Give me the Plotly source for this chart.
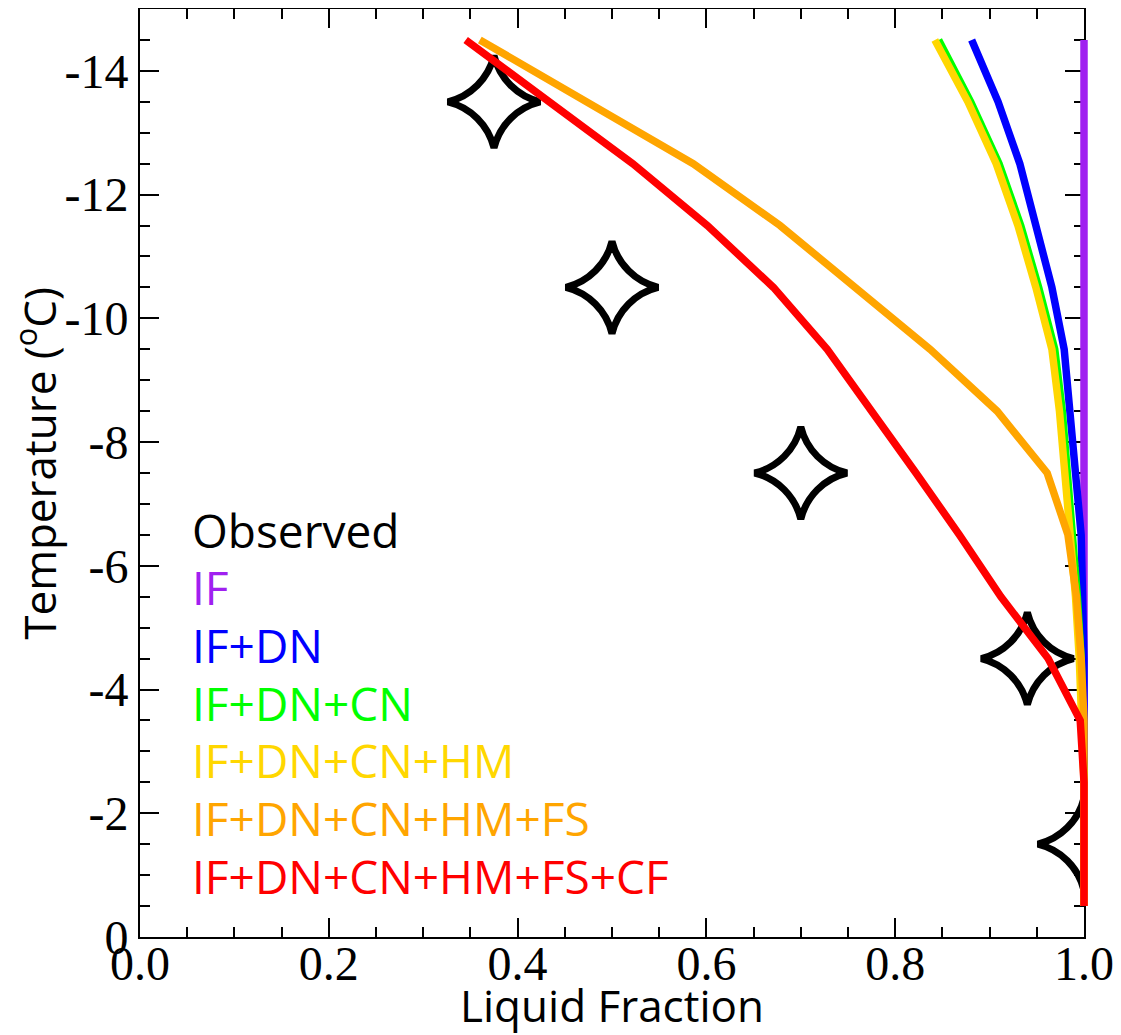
import plotly.graph_objects as go

# ---- data ----
temperature = [-14.5, -13.5, -12.5, -11.5, -10.5, -9.5, -8.5, -7.5,
               -6.5, -5.5, -4.5, -3.5, -2.5, -1.5, -0.5]

obs_fraction = [0.375, 0.50, 0.70, 0.94, 1.0]
obs_temperature = [-13.5, -10.5, -7.5, -4.5, -1.5]

lf_if = [1.0] * 15
lf_if_dn = [0.881, 0.909, 0.932, 0.950, 0.966, 0.979, 0.984, 0.991,
            0.997, 0.999, 1.0, 1.0, 1.0, 1.0, 1.0]
lf_if_dn_cn = [0.846, 0.880, 0.910, 0.933, 0.952, 0.969, 0.977, 0.983,
               0.988, 0.993, 0.997, 0.999, 1.0, 1.0, 1.0]
lf_if_dn_cn_hm = [0.842, 0.877, 0.907, 0.930, 0.949, 0.966, 0.974, 0.980,
                  0.986, 0.991, 0.995, 0.998, 1.0, 1.0, 1.0]
lf_if_dn_cn_hm_fs = [0.360, 0.472, 0.586, 0.678, 0.759, 0.837, 0.908, 0.961,
                     0.983, 0.992, 0.997, 1.0, 1.0, 1.0, 1.0]
lf_if_dn_cn_hm_fs_cf = [0.345, 0.432, 0.522, 0.601, 0.671, 0.728, 0.776, 0.822,
                        0.868, 0.912, 0.962, 0.996, 1.0, 1.0, 1.0]

series_names = ["IF", "IF+DN", "IF+DN+CN", "IF+DN+CN+HM",
                "IF+DN+CN+HM+FS", "IF+DN+CN+HM+FS+CF"]
series_values = [lf_if, lf_if_dn, lf_if_dn_cn, lf_if_dn_cn_hm,
                 lf_if_dn_cn_hm_fs, lf_if_dn_cn_hm_fs_cf]
series_colors = ["#A020F0", "#0000FF", "#00FF00", "#FFD700", "#FFA500", "#FF0000"]

x_tickvals = [0.0, 0.2, 0.4, 0.6, 0.8, 1.0]
x_ticklabels = ["0.0", "0.2", "0.4", "0.6", "0.8", "1.0"]
y_tickvals = [-14, -12, -10, -8, -6, -4, -2, 0]
y_ticklabels = ["-14", "-12", "-10", "-8", "-6", "-4", "-2", "0"]

x_title = "Liquid Fraction"
y_title = "Temperature (<sup>o</sup>C)"

# ---- layout geometry ----
FIG_W, FIG_H = 1113, 1027          # page body adds an 8 px offset
M_L, M_R, M_T, M_B = 132, 27, 1, 98
plot_w = FIG_W - M_L - M_R          # 954
axis_w = 944                        # visible axis width in px
dom_end = axis_w / plot_w
x_max = 1.0

fig = go.Figure()

# observed stars (clipped by the visible axes, like the reference)
fig.add_trace(go.Scatter(
    x=obs_fraction, y=obs_temperature, mode="markers", name="Observed",
    xaxis="x", yaxis="y",
    marker=dict(symbol="star-diamond-open", size=66, color="black",
                line=dict(width=7, color="black")),
    showlegend=False))

# model lines on a hidden twin x-axis with an identical px scale,
# so lines at x = 1 are drawn at full width over the frame
for name, vals, col in zip(series_names, series_values, series_colors):
    fig.add_trace(go.Scatter(
        x=vals, y=temperature, mode="lines", name=name,
        xaxis="x2", yaxis="y",
        line=dict(color=col, width=7.5), showlegend=False))

# text legend
legend_labels = ["Observed"] + series_names
legend_colors = ["black"] + series_colors
top_y = 0.439
step = 0.0622
for i, (lab, col) in enumerate(zip(legend_labels, legend_colors)):
    fig.add_annotation(
        xref="x", yref="paper", x=0.053, y=top_y - i * step,
        xanchor="left", yanchor="middle", showarrow=False,
        text=lab, font=dict(family="Open Sans", size=46, color=col))

# y-axis title as rotated text placed left of the tick labels
fig.add_annotation(
    xref="paper", yref="paper", x=-0.109, y=0.51,
    xanchor="center", yanchor="middle", textangle=-90, showarrow=False,
    text=y_title, font=dict(family="Open Sans", size=44, color="black"))

axis_common = dict(
    showline=True, linecolor="black", linewidth=2, mirror="ticks",
    ticks="inside", ticklen=19, tickwidth=2, tickcolor="black",
    showgrid=False, zeroline=False,
    tickfont=dict(family="Liberation Serif", size=48, color="black"),
)

fig.update_layout(
    xaxis=dict(
        **axis_common, domain=[0, dom_end], anchor="y",
        range=[0, x_max], tickvals=x_tickvals, ticktext=x_ticklabels,
        ticklabelstandoff=-17,
        minor=dict(dtick=0.05, tick0=0, ticks="inside", ticklen=10,
                   tickwidth=2, tickcolor="black"),
        title=dict(text=x_title, standoff=0,
                   font=dict(family="Open Sans", size=44, color="black")),
    ),
    xaxis2=dict(domain=[0, 1], anchor="y", range=[0, x_max / dom_end],
                visible=False, showgrid=False, zeroline=False),
    yaxis=dict(
        **axis_common, anchor="x",
        range=[0, -15], tickvals=y_tickvals, ticktext=y_ticklabels,
        minor=dict(dtick=0.5, tick0=0, ticks="inside", ticklen=10,
                   tickwidth=2, tickcolor="black"),
    ),
    width=FIG_W, height=FIG_H,
    margin=dict(l=M_L, r=M_R, t=M_T, b=M_B, autoexpand=False),
    plot_bgcolor="rgba(0,0,0,0)", paper_bgcolor="white",
    showlegend=False,
)

fig.write_html("out.html")
